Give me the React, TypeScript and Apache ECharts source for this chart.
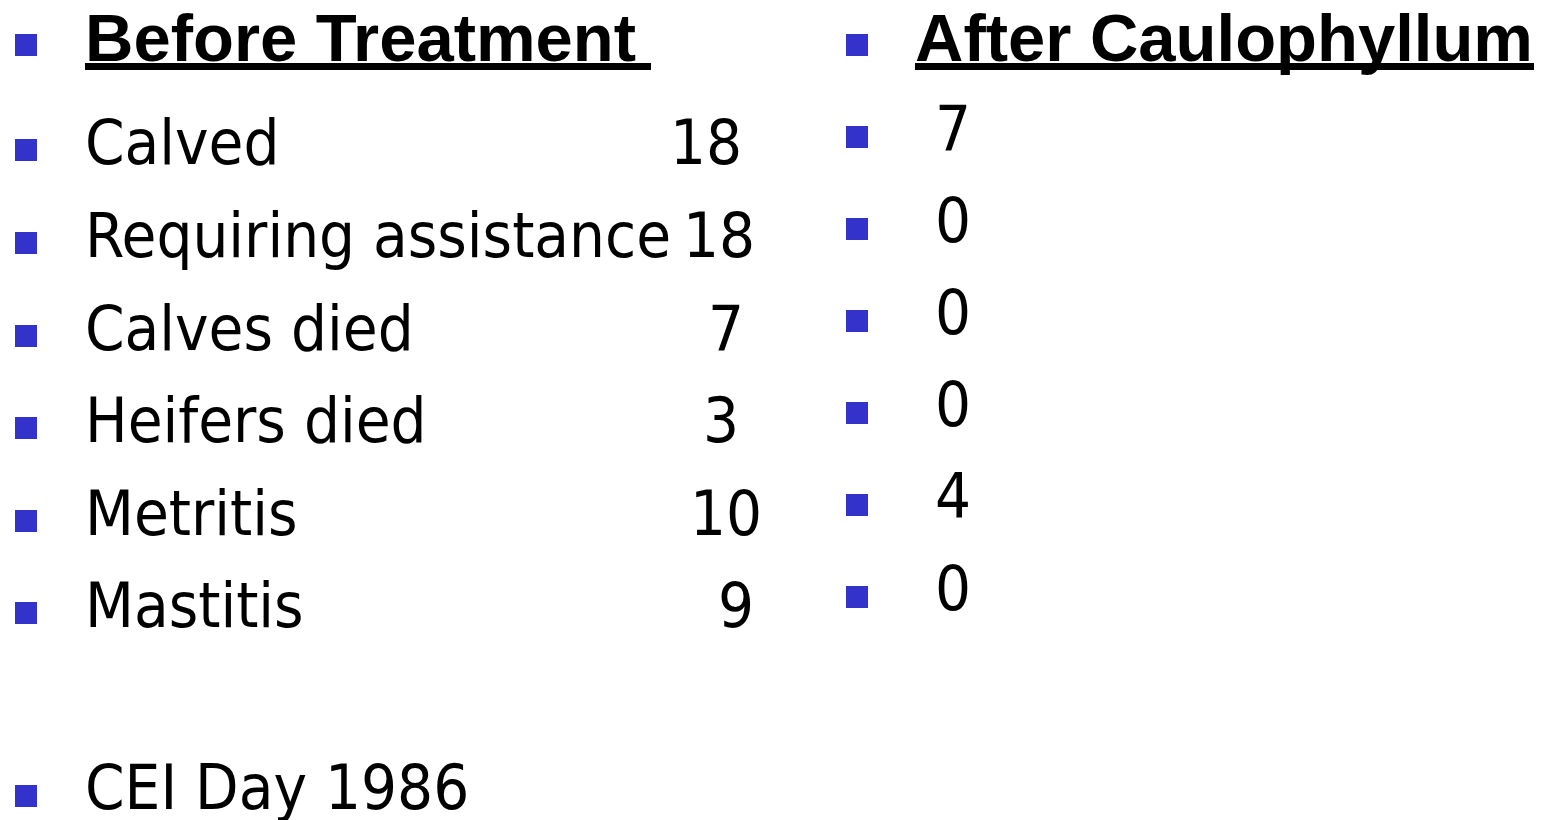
import React, { useEffect, useRef } from "react";
import * as echarts from "echarts";

// ---- data ----
const headers = ["Before Treatment", "After Caulophyllum"];
const categories = ["Calved", "Requiring assistance", "Calves died", "Heifers died", "Metritis", "Mastitis"];
const beforeValues = [18, 18, 7, 3, 10, 9];
const afterValues = [7, 0, 0, 0, 4, 0];
const footnote = "CEI Day 1986";

// ---- layout (positions only, not data) ----
const beforeNumberX = [670, 683, 708, 703, 690, 718];
const leftBaselines = [165, 258, 351, 443, 536, 628];
const rightBaselines = [151, 243, 335, 427, 519, 611];
const footBaseline = 810;

const BULLET = "#3333CC";
const BODY_FONT = "'DejaVu Sans Condensed', 'DejaVu Sans', sans-serif";
const TITLE_FONT = "'Liberation Sans', Arial, sans-serif";
const BODY_SIZE = 63;
const TITLE_SIZE = 67;

export default function App() {
  const ref = useRef<HTMLDivElement>(null);
  useEffect(() => {
    document.body.style.margin = "0";
    const chart = echarts.init(ref.current!, null, { renderer: "svg" });
    const els: any[] = [];
    const bullet = (x: number, cy: number) =>
      els.push({ type: "rect", shape: { x, y: cy - 11, width: 22, height: 22 }, style: { fill: BULLET } });
    const bodyText = (text: string, x: number, baseline: number) =>
      els.push({
        type: "text",
        x,
        y: baseline - BODY_SIZE * 0.3 - 4,
        style: { text, font: `${BODY_SIZE}px ${BODY_FONT}`, fill: "#000", align: "left", verticalAlign: "middle" },
      });
    const titleText = (text: string, x: number, baseline: number, ulWidth: number) => {
      els.push({
        type: "text",
        x,
        y: baseline - TITLE_SIZE * 0.31 - 2,
        style: { text, font: `bold ${TITLE_SIZE}px ${TITLE_FONT}`, fill: "#000", align: "left", verticalAlign: "middle" },
      });
      els.push({ type: "rect", shape: { x, y: 63, width: ulWidth, height: 7 }, style: { fill: "#000" } });
    };

    // headers
    bullet(15, 45);
    titleText(headers[0], 85, 60, 566);
    bullet(846, 45);
    titleText(headers[1], 915, 60, 619);

    categories.forEach((c, i) => {
      bullet(15, leftBaselines[i] - 15);
      bodyText(c, 85, leftBaselines[i]);
      bodyText(String(beforeValues[i]), beforeNumberX[i], leftBaselines[i]);
      bullet(846, rightBaselines[i] - 14);
      bodyText(String(afterValues[i]), 935, rightBaselines[i]);
    });

    bullet(15, footBaseline - 14);
    bodyText(footnote, 85, footBaseline);

    chart.setOption({ animation: false, backgroundColor: "#fff", graphic: { elements: els } });
    return () => chart.dispose();
  }, []);
  return <div ref={ref} style={{ width: 1546, height: 820 }} />;
}
